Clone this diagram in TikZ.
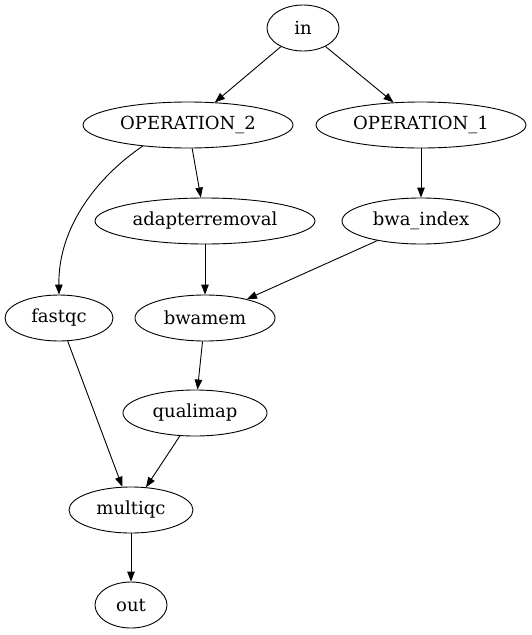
\documentclass[tikz,border=0pt]{standalone}
\usepackage{fontspec}
\setmainfont{DejaVu Serif}
\usetikzlibrary{shapes.geometric,arrows.meta}
\begin{document}
\begin{tikzpicture}[x=1pt,y=-1pt,
  nd/.style={ellipse,draw,line width=0.9pt,inner sep=0pt,minimum height=46pt,font=\fontsize{18}{20}\selectfont},
  ed/.style={line width=0.9pt,-{Triangle[length=10pt,width=7.5pt]}}]
\useasboundingbox (0,0) rectangle (532,635);
\node[nd,minimum width=72pt] (in) at (303,28) {in};
\node[nd,minimum width=210pt] (op2) at (188,125) {OPERATION\_2};
\node[nd,minimum width=210pt] (op1) at (421,125) {OPERATION\_1};
\node[nd,minimum width=220pt] (ar) at (205,221) {adapterremoval};
\node[nd,minimum width=158pt] (bi) at (421,221) {bwa\_index};
\node[nd,minimum width=108pt] (fq) at (59,318) {fastqc};
\node[nd,minimum width=140pt] (bm) at (205,318) {bwamem};
\node[nd,minimum width=144pt] (qm) at (195,413) {qualimap};
\node[nd,minimum width=124pt] (mq) at (131,510) {multiqc};
\node[nd,minimum width=72pt] (out) at (131,605) {out};
\draw[ed] (op2.205) .. controls (100,175) and (58,225) .. (fq.north);
\draw[ed] (in) -- (op2);
\draw[ed] (in) -- (op1);
\draw[ed] (op2) -- (ar);
\draw[ed] (op1) -- (bi);
\draw[ed] (ar) -- (bm);
\draw[ed] (bi) -- (bm);
\draw[ed] (fq) -- (mq);
\draw[ed] (bm) -- (qm);
\draw[ed] (qm) -- (mq);
\draw[ed] (mq) -- (out);
\end{tikzpicture}
\end{document}
